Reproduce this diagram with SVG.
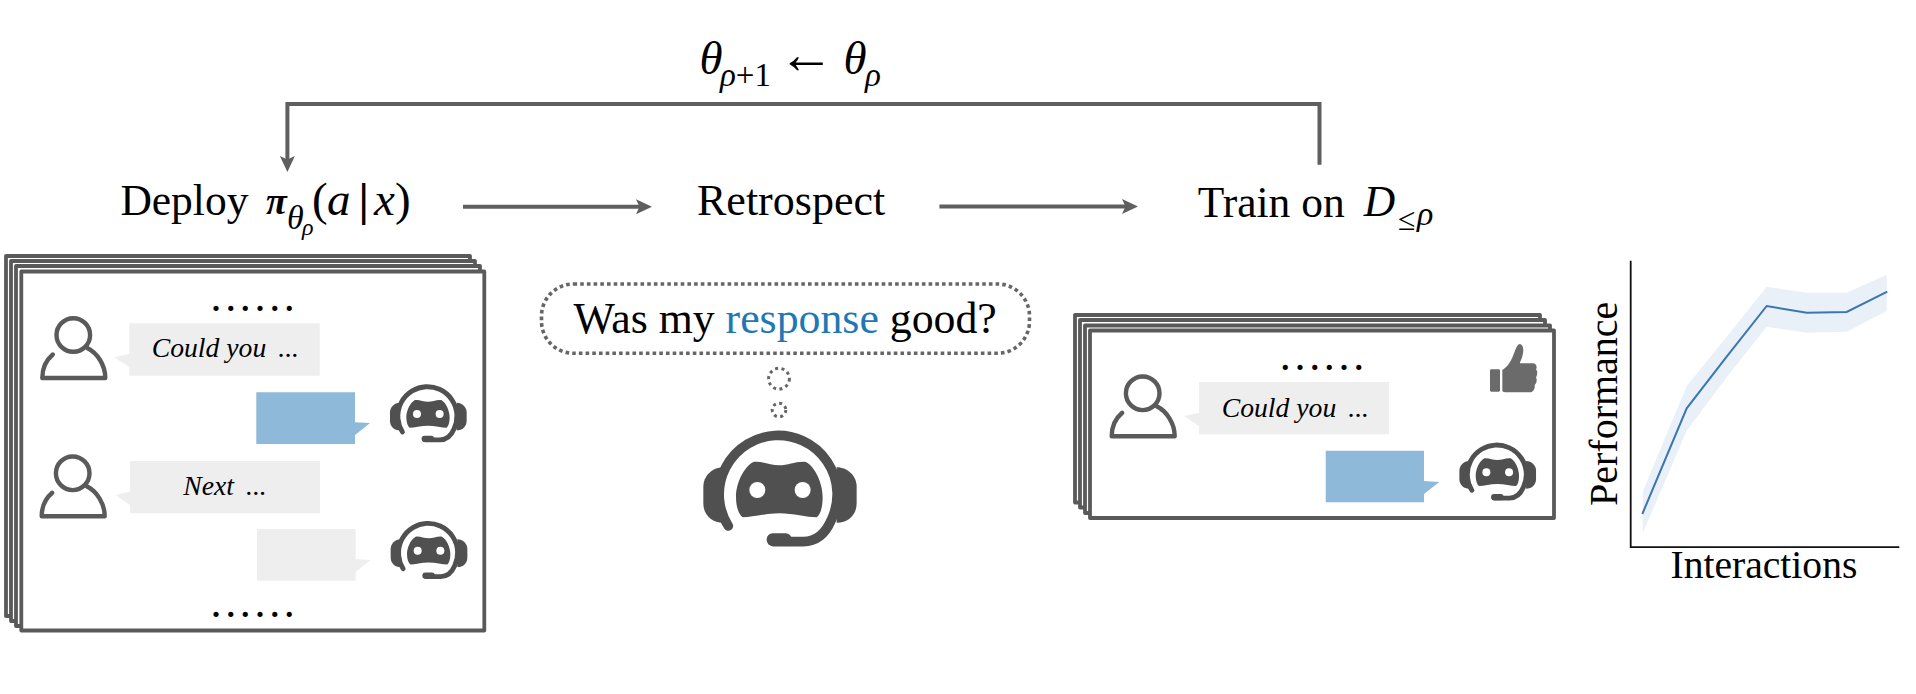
<svg xmlns="http://www.w3.org/2000/svg" xmlns:xlink="http://www.w3.org/1999/xlink" width="1916" height="694" viewBox="0 0 1916 694">
<style>
text{font-family:"Liberation Serif","Times New Roman",serif;fill:#000}
.i{font-style:italic}
.lab{font-size:43.5px}
.ret{font-size:44px}
.math{font-size:47px}
.msg{font-size:27.7px;font-style:italic}
.dots{font-size:44px;letter-spacing:3.67px}
.frame{fill:#fff;stroke:#5a5a5a;stroke-width:3.8;stroke-linejoin:round}
.grey{fill:#eeeeee}
.blue{fill:#8fb9d9}
.conn{fill:none;stroke:#5f5f5f;stroke-width:4}
.dashed{fill:none;stroke:#666;stroke-width:3.6;stroke-dasharray:3.6 3.1}
.dash2{fill:none;stroke:#666;stroke-width:3;stroke-dasharray:3 3.4}
.b{fill:#505050}
</style>
<defs>
<marker id="head" markerUnits="userSpaceOnUse" markerWidth="16" markerHeight="16" refX="9" refY="7.5" orient="auto" viewBox="0 0 16 15">
<path d="M0,0 L16,7.5 L0,15 L3.5,7.5Z" fill="#5f5f5f"/>
</marker>
<g id="person" fill="none" stroke="#5a5a5a" stroke-width="4.4" stroke-linecap="round" stroke-linejoin="round">
<circle cx="0" cy="0" r="16.8"/>
<path d="M-20.5,19.5 C-27,25 -31,33 -31,43 H32 C32,30 24,18 14,13"/>
</g>
<g id="bot">
<path class="b" d="M100,142 C65,142 40,170 40,200 V250 C40,285 65,308 100,308Z"/>
<path class="b" d="M440,142 C475,142 500,170 500,200 V250 C500,285 475,308 440,308Z"/>
<path d="M115,318 A177,177 0 1 1 424,300 C405,345 375,365 340,365 L250,365" fill="none" stroke="#505050" stroke-width="29" stroke-linecap="round"/>
<rect class="b" x="230" y="340" width="75" height="38" rx="18"/>
<path class="b" d="M190,126 C215,122 240,136 268,136 C296,136 320,122 348,126 C375,140 398,190 398,230 C398,258 393,282 380,292 C350,292 310,280 268,280 C226,280 186,292 158,292 C145,282 138,258 138,230 C138,190 162,140 190,126Z"/>
<circle cx="202" cy="210" r="24" fill="#fff"/>
<circle cx="338" cy="210" r="24" fill="#fff"/>
</g>
</defs>
<rect width="1916" height="694" fill="#fff"/>

<g id="connectors">
<path class="conn" d="M1319.5,164.7 V104 H287.4 V165" marker-end="url(#head)"/>
<path class="conn" d="M463,206.7 H645" marker-end="url(#head)"/>
<path class="conn" d="M939.4,206.5 H1131" marker-end="url(#head)"/>
</g>

<g id="update-label">
<text class="i" font-size="47" x="699.5" y="74.3">θ</text>
<text font-size="33" x="720" y="86"><tspan class="i">ρ</tspan>+1</text>
<text font-size="56" x="778" y="72.5" style="font-family:'Liberation Sans',sans-serif">←</text>
<text class="i" font-size="47" x="843.5" y="74.3">θ</text>
<text class="i" font-size="33" x="865" y="86">ρ</text>
</g>

<g id="deploy">
<text class="lab" x="120.4" y="215">Deploy</text>
<text class="i" font-size="38" font-weight="bold" x="266" y="213.5">π</text>
<text class="i" font-size="34" x="287" y="229">θ</text>
<text class="i" font-size="24" x="302" y="235">ρ</text>
<text class="math" x="312" y="215">(</text>
<text class="math i" x="327" y="215">a</text>
<text class="math" font-weight="bold" x="358.5" y="215">|</text>
<text class="math i" x="374" y="215">x</text>
<text class="math" x="395" y="215">)</text>
</g>

<g id="retrospect"><text class="ret" x="697" y="215">Retrospect</text></g>

<g id="train">
<text class="lab" x="1197.7" y="216.7">Train on</text>
<text class="lab i" x="1363.8" y="216">D</text>
<text font-size="32" x="1398" y="230">≤</text>
<text class="i" font-size="34" x="1417" y="225">ρ</text>
</g>

<g id="deploy-panel">
<rect class="frame" x="6" y="256" width="464" height="360"/>
<rect class="frame" x="11" y="261" width="464" height="360"/>
<rect class="frame" x="16" y="266" width="464" height="360"/>
<rect class="frame" x="21.3" y="271.5" width="463" height="359"/>
<text class="dots" x="210.5" y="311.3">......</text>
<use xlink:href="#person" href="#person" x="73.3" y="335"/>
<path class="grey" d="M129.3,323.3 H319.7 V375.7 H129.3 V367.3 L114.3,357.3 L129.3,354Z"/>
<text class="msg" x="151.7" y="357.3">Could you <tspan dx="5">...</tspan></text>
<path class="blue" d="M256.3,392.3 H355 V422.3 L370,423 L355,435 V444 H256.3Z"/>
<use xlink:href="#bot" href="#bot" transform="translate(383.3,379) scale(0.1667)"/>
<use xlink:href="#person" href="#person" x="72.7" y="473.3"/>
<path class="grey" d="M130,461 H320 V513.3 H130 V505 L115.3,495 L130,491.7Z"/>
<text class="msg" x="183.3" y="495">Next <tspan dx="5">...</tspan></text>
<path class="grey" d="M257,529 H355.7 V559 L370.3,560 L355.7,572 V580.7 H257Z"/>
<use xlink:href="#bot" href="#bot" transform="translate(384,515.7) scale(0.1667)"/>
<text class="dots" x="210.5" y="616.7">......</text>
</g>

<g id="retrospect-thought">
<rect class="dashed" x="541.5" y="284" width="488" height="69.3" rx="32" ry="32"/>
<text font-size="43.8" x="573.4" y="332.7">Was my <tspan style="fill:#1f77b4">response</tspan> good?</text>
<circle class="dash2" cx="779" cy="378.7" r="10.4"/>
<circle class="dash2" cx="779" cy="410" r="6.8"/>
<use xlink:href="#bot" href="#bot" transform="translate(690,420) scale(0.3333)"/>
</g>

<g id="train-panel">
<rect class="frame" x="1075" y="315" width="465" height="187.5"/>
<rect class="frame" x="1080" y="320" width="465" height="187.5"/>
<rect class="frame" x="1085" y="325.5" width="465" height="187.5"/>
<rect class="frame" x="1090" y="330.5" width="464" height="187.5"/>
<text class="dots" x="1279.8" y="370">......</text>
<use xlink:href="#person" href="#person" x="1142.7" y="393.3"/>
<path class="grey" d="M1199,382 H1389 V434.3 H1199 V426 L1184,416 L1199,412.7Z"/>
<text class="msg" x="1221.7" y="416.7">Could you <tspan dx="5">...</tspan></text>
<path class="blue" d="M1325.7,450.7 H1424 V481 L1439.3,482 L1424,494 V502.3 H1325.7Z"/>
<use xlink:href="#bot" href="#bot" transform="translate(1452.7,437.3) scale(0.1667)"/>
<g id="thumb" transform="translate(1440,330) scale(0.3333)" fill="#6b6b6b">
<rect x="150" y="118" width="30" height="67" rx="4"/>
<path d="M187,120 C205,110 215,90 222,70 C228,55 232,42 240,42 C250,44 252,60 248,75 C245,90 238,98 240,100 L280,100 C290,102 292,112 288,118 C294,125 292,135 288,142 C292,150 290,160 284,165 C286,175 280,187 270,187 L200,187 C195,187 187,185 187,182Z"/>
</g>
</g>

<g id="chart">
<path fill="#eaf0f7" d="M1642.7,491.7 L1686.7,386 L1726.7,336.7 L1766.7,286.7 L1806.7,292.7 L1846.7,292.7 L1886.7,274.7 V311 L1846.7,331.7 L1806.7,332.7 L1766.7,326.7 L1726.7,377.3 L1686.7,430.7 L1642.7,533.3Z"/>
<path fill="none" stroke="#3a76af" stroke-width="2" d="M1642.3,514 L1686.7,408.3 L1726.7,356.7 L1766.7,306 L1806.7,312.7 L1846.7,312 L1887.3,291.7"/>
<path fill="none" stroke="#111" stroke-width="1.8" d="M1630.7,260.7 V547.2 H1899.3"/>
<text font-size="39.6" x="1670.5" y="578">Interactions</text>
<text font-size="40" transform="translate(1617.3,506) rotate(-90)">Performance</text>
</g>
</svg>
